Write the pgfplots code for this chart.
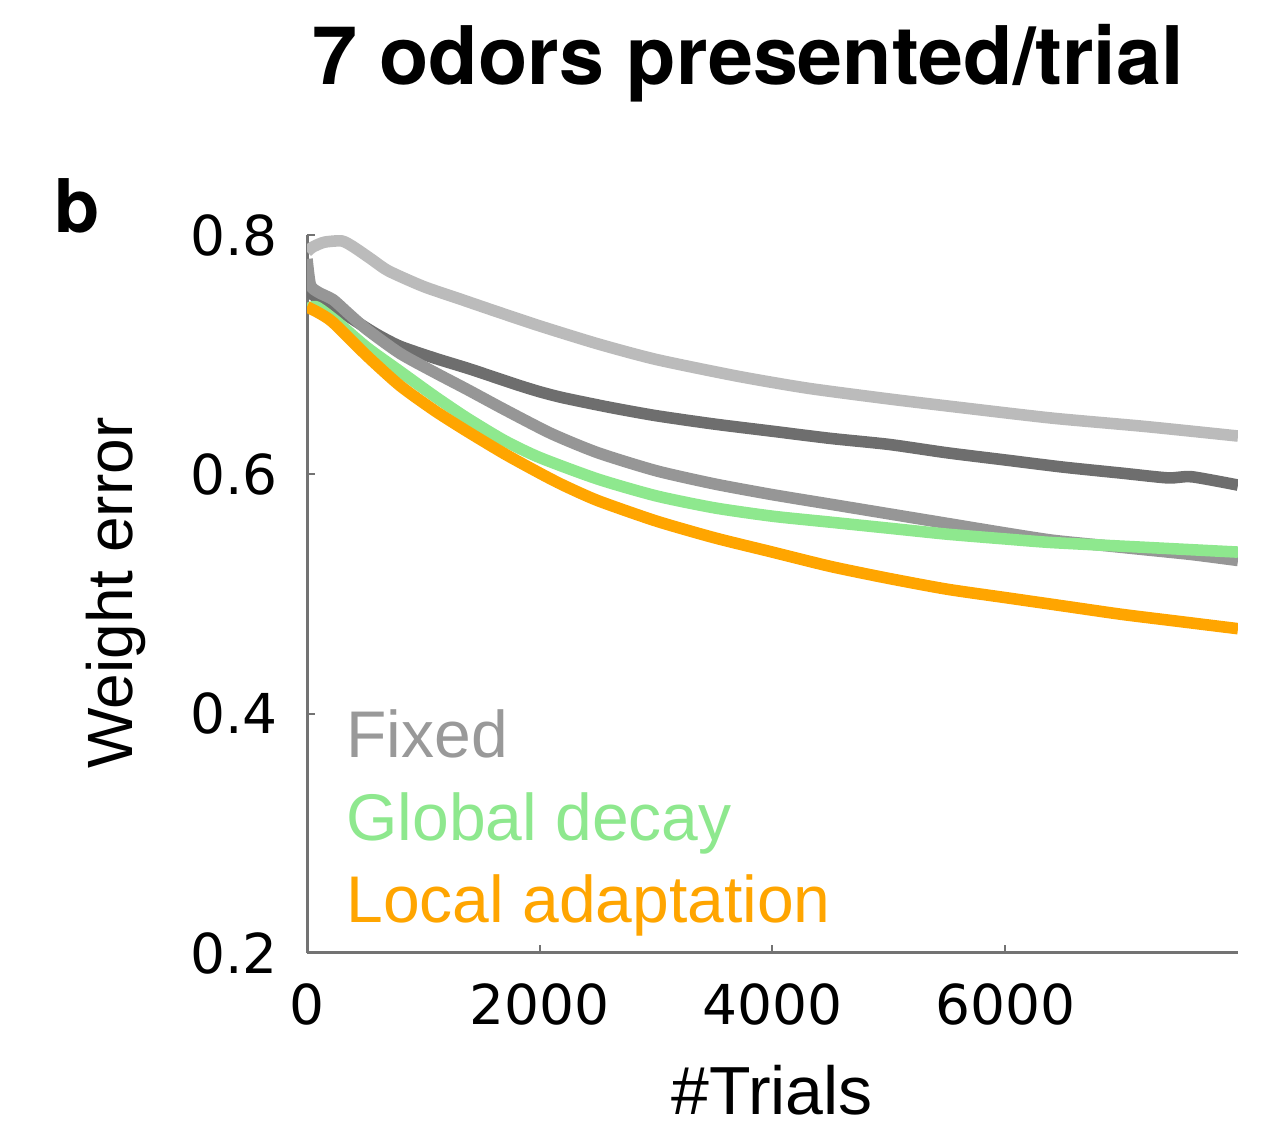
\documentclass[border=0pt]{standalone}
\usepackage{pgfplots}
\pgfplotsset{compat=1.18}
\usepackage{fontspec}
\setmainfont{Liberation Sans}
\newfontfamily\dejavu{DejaVu Sans}
\newfontfamily\helv{TeX Gyre Heros}
\definecolor{lgray}{HTML}{BBBBBB}
\definecolor{dgray}{HTML}{6E6E6E}
\definecolor{mgray}{HTML}{969696}
\definecolor{lgreen}{HTML}{8EE88E}
\definecolor{orng}{HTML}{FFA500}
\definecolor{fixedtxt}{HTML}{999999}
\begin{document}
\begin{tikzpicture}
\begin{axis}[
  at={(153.5bp,88.5bp)}, anchor=south west,
  scale only axis, width=465.5bp, height=359bp,
  xmin=0, xmax=8000, ymin=0.2, ymax=0.8,
  axis x line*=bottom, axis y line*=left,
  axis line style={draw=black!55, line width=1.5bp},
  tick style={draw=black!55, line width=1bp},
  tick align=inside, major tick length=4bp,
  xtick={0,2000,4000,6000}, ytick={0.2,0.4,0.6,0.8},
  scaled ticks=false,
  /pgf/number format/assume math mode=true,
  /pgf/number format/1000 sep={},
  yticklabel style={/pgf/number format/fixed, /pgf/number format/precision=1, /pgf/number format/fixed zerofill, inner sep=0pt, xshift=-14.5bp},
  xticklabel style={inner sep=0pt, yshift=-15bp},
  ticklabel style={font=\dejavu\fontsize{27.5bp}{33bp}\selectfont},
  every axis plot/.append style={line width=5.8bp, line join=round, line cap=butt, smooth, tension=0.4},
]
% light gray (Fixed, variant 1)
\addplot[lgray] coordinates {
(0,0.786) (50,0.790) (150,0.794) (300,0.795) (400,0.790) (550,0.780) (700,0.770)
(1000,0.757) (1300,0.747) (1600,0.737) (2000,0.724) (2500,0.709) (3000,0.696)
(3700,0.682) (4300,0.672) (5000,0.663) (5600,0.656) (6400,0.647) (7200,0.640) (8000,0.632)};
% dark gray
\addplot[dgray] coordinates {
(0,0.775) (30,0.752) (150,0.745) (370,0.731) (600,0.717) (800,0.707) (1100,0.697)
(1400,0.688) (1800,0.675) (2000,0.669) (2200,0.664) (2600,0.656) (3000,0.649)
(3500,0.642) (4000,0.636) (4500,0.630) (5000,0.625) (5500,0.618) (6000,0.612)
(6500,0.606) (7000,0.601) (7400,0.597) (7600,0.598) (8000,0.591)};
% medium gray
\addplot[mgray] coordinates {
(0,0.780) (30,0.758) (100,0.752) (223,0.746) (350,0.735) (515,0.721) (800,0.701)
(1100,0.685) (1375,0.671) (1700,0.654) (2100,0.634) (2500,0.618) (3000,0.603)
(3500,0.592) (4000,0.583) (4500,0.575) (5000,0.567) (5500,0.559) (6000,0.551)
(6400,0.545) (6800,0.541) (7200,0.537) (7600,0.533) (8000,0.528)};
% green (Global decay)
\addplot[lgreen] coordinates {
(0,0.738) (80,0.740) (250,0.728) (515,0.706) (800,0.686) (1100,0.665) (1375,0.647)
(1700,0.628) (2000,0.614) (2500,0.596) (3000,0.582) (3500,0.572) (4000,0.565)
(4500,0.560) (5000,0.555) (5500,0.550) (6000,0.546) (6400,0.543) (7200,0.539) (8000,0.535)};
% orange (Local adaptation)
\addplot[orng] coordinates {
(0,0.740) (100,0.735) (223,0.727) (515,0.699) (800,0.674) (1100,0.653) (1375,0.636)
(1700,0.617) (2000,0.601) (2200,0.591) (2500,0.578) (3000,0.561) (3500,0.547)
(4000,0.535) (4500,0.523) (5000,0.513) (5500,0.504) (6000,0.497) (6500,0.490)
(7000,0.483) (7500,0.477) (8000,0.471)};
\end{axis}
\begin{scope}[shift={(0,565bp)}, x=0.5bp, y=-0.5bp]
\node[anchor=base, inner sep=0pt, font=\helv\bfseries\fontsize{40.4bp}{48bp}\selectfont] at (748,85) {7 odors presented/trial};
\node[anchor=base west, inner sep=0pt, font=\helv\bfseries\fontsize{37bp}{44bp}\selectfont] at (54,233) {b};
\node[anchor=base, inner sep=0pt, font=\fontsize{34bp}{40bp}\selectfont] at (772,1115) {\#Trials};
\node[anchor=base, inner sep=0pt, rotate=90, font=\fontsize{32bp}{38bp}\selectfont] at (133,593) {Weight error};
\node[anchor=base west, inner sep=0pt, text=fixedtxt, font=\fontsize{33bp}{40bp}\selectfont] at (346,758) {Fixed};
\node[anchor=base west, inner sep=0pt, text=lgreen, font=\fontsize{33bp}{40bp}\selectfont] at (346,841) {Global decay};
\node[anchor=base west, inner sep=0pt, text=orng, font=\fontsize{33bp}{40bp}\selectfont] at (346,923) {Local adaptation};
\end{scope}
\pgfresetboundingbox
\path[use as bounding box] (0,0) rectangle (630.5bp,565bp);
\end{tikzpicture}
\end{document}
